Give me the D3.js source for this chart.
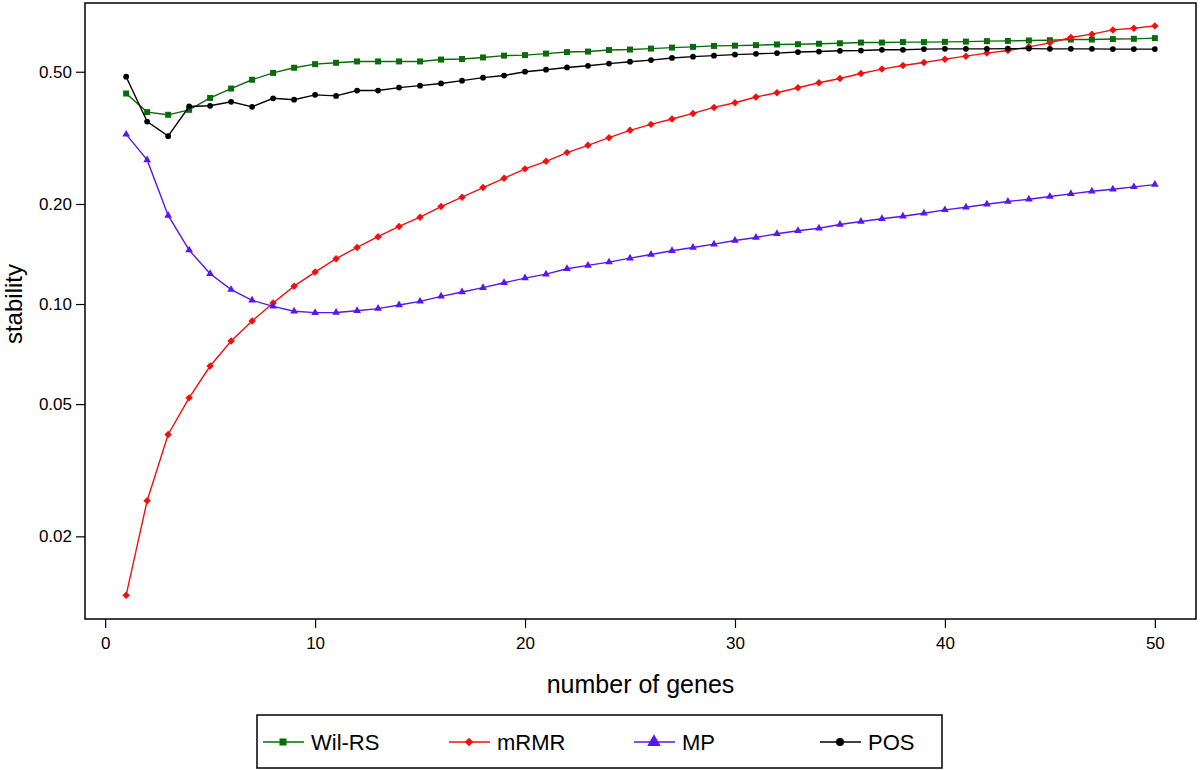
<!DOCTYPE html>
<html>
<head>
<meta charset="utf-8">
<script src="https://cdn.jsdelivr.net/npm/d3@7"></script>
<style>
  body { margin: 0; background: #fff; }
  text { font-family: "Liberation Sans", Arial, sans-serif; fill: #000; }
</style>
</head>
<body>
<svg id="chart" width="1200" height="770"></svg>
<script>
// number of genes, 1..50
var genes = d3.range(1, 51);

var wilrs = [0.430, 0.378, 0.371, 0.384, 0.417, 0.445, 0.473, 0.496, 0.514, 0.527,
             0.532, 0.537, 0.537, 0.537, 0.537, 0.544, 0.546, 0.552, 0.559, 0.561,
             0.567, 0.573, 0.575, 0.581, 0.583, 0.587, 0.591, 0.594, 0.598, 0.599,
             0.601, 0.604, 0.605, 0.607, 0.609, 0.612, 0.612, 0.614, 0.614, 0.615,
             0.616, 0.618, 0.619, 0.621, 0.622, 0.625, 0.625, 0.627, 0.628, 0.631];

var mrmr = [0.0133, 0.0256, 0.0405, 0.0522, 0.0651, 0.0774, 0.0889, 0.1007, 0.1132, 0.1248,
            0.1369, 0.1480, 0.1594, 0.1712, 0.1825, 0.1965, 0.2096, 0.2241, 0.2390, 0.2551,
            0.2688, 0.2855, 0.3003, 0.3167, 0.3331, 0.3472, 0.3604, 0.3746, 0.3905, 0.4033,
            0.4196, 0.4322, 0.4475, 0.4632, 0.4772, 0.4939, 0.5092, 0.5221, 0.5330, 0.5456,
            0.5570, 0.5689, 0.5791, 0.5941, 0.6108, 0.6336, 0.6486, 0.6682, 0.6761, 0.6870];

var mp = [0.324, 0.2714, 0.1847, 0.1453, 0.1234, 0.1105, 0.1026, 0.0984, 0.0951, 0.0942,
          0.0943, 0.0955, 0.0969, 0.0993, 0.1019, 0.1055, 0.1087, 0.1120, 0.1159, 0.1197,
          0.1230, 0.1277, 0.1307, 0.1337, 0.1374, 0.1410, 0.1447, 0.1480, 0.1514, 0.1553,
          0.1586, 0.1627, 0.1661, 0.1691, 0.1735, 0.1771, 0.1805, 0.1837, 0.1876, 0.1920,
          0.1956, 0.1997, 0.2035, 0.2067, 0.2106, 0.2146, 0.2185, 0.2215, 0.2252, 0.2288];

var pos = [0.483, 0.354, 0.320, 0.393, 0.395, 0.406, 0.392, 0.416, 0.412, 0.426,
           0.423, 0.439, 0.439, 0.448, 0.454, 0.461, 0.470, 0.480, 0.487, 0.500,
           0.507, 0.515, 0.521, 0.529, 0.536, 0.542, 0.550, 0.555, 0.559, 0.563,
           0.566, 0.569, 0.573, 0.575, 0.578, 0.579, 0.582, 0.582, 0.585, 0.586,
           0.586, 0.586, 0.587, 0.587, 0.586, 0.586, 0.586, 0.585, 0.585, 0.585];

var xTicks = [0, 10, 20, 30, 40, 50];
var yTicks = [0.02, 0.05, 0.10, 0.20, 0.50];

var seriesNames = ["Wil-RS", "mRMR", "MP", "POS"];
var seriesValues = [wilrs, mrmr, mp, pos];
var seriesColors = ["#0a6b0a", "#f01010", "#5a16ee", "#000000"];
// diamond = square turned 45 degrees (like R's pch 18)
var seriesSymbols = [d3.symbolSquare, d3.symbolSquare, d3.symbolTriangle, d3.symbolCircle];
var seriesRotate = [0, 45, 0, 0];
var symbolSizes = [36, 28, 26, 26];

var svg = d3.select("#chart");

// plot box (left, right, top, bottom)
var plotL = 85, plotR = 1196, plotT = 3, plotB = 619;

var x = d3.scaleLinear().domain([-0.96, 51.96]).range([plotL, plotR]);
var y = d3.scaleLog().domain([0.01128, 0.805]).range([plotB, plotT]);

// frame
svg.append("rect")
	.attr("x", plotL).attr("y", plotT)
	.attr("width", plotR - plotL).attr("height", plotB - plotT)
	.attr("fill", "none").attr("stroke", "#000").attr("stroke-width", 1.5);

var xAxis = svg.append("g")
	.attr("transform", "translate(0," + plotB + ")")
	.call(d3.axisBottom(x).tickValues(xTicks).tickSize(9).tickPadding(5).tickFormat(d3.format("d")));

var yAxis = svg.append("g")
	.attr("transform", "translate(" + plotL + ",0)")
	.call(d3.axisLeft(y).tickValues(yTicks).tickSize(9).tickPadding(4).tickFormat(d3.format(".2f")));

[xAxis, yAxis].forEach(function(a){
	a.attr("font-size", null).attr("font-family", null);
	a.select(".domain").remove();
	a.selectAll("line").attr("stroke", "#000").attr("stroke-width", 1.2);
	a.selectAll("text").style("font-size", "17px").attr("fill", "#000");
});
xAxis.selectAll("text").attr("dy", "0.95em");

// axis titles
svg.append("text")
	.attr("x", (plotL + plotR) / 2).attr("y", 693)
	.attr("text-anchor", "middle")
	.style("font-size", "25px")
	.text("number of genes");

svg.append("text")
	.attr("transform", "translate(22," + y(0.1) + ") rotate(-90)")
	.attr("text-anchor", "middle")
	.style("font-size", "24px")
	.text("stability");

var line = d3.line()
	.x(function(d, i){ return x(genes[i]); })
	.y(function(d){ return y(d); });

seriesValues.forEach(function(vals, k){
	var g = svg.append("g");
	g.append("path")
		.datum(vals)
		.attr("d", line)
		.attr("fill", "none")
		.attr("stroke", seriesColors[k])
		.attr("stroke-width", 1.4);
	g.selectAll("path.pt")
		.data(vals)
		.enter().append("path")
		.attr("class", "pt")
		.attr("transform", function(d, i){
			return "translate(" + x(genes[i]) + "," + y(d) + ") rotate(" + seriesRotate[k] + ")";
		})
		.attr("d", d3.symbol().type(seriesSymbols[k]).size(symbolSizes[k]))
		.attr("fill", seriesColors[k]);
});

// legend
var legend = svg.append("g");
legend.append("rect")
	.attr("x", 257).attr("y", 715)
	.attr("width", 685).attr("height", 53)
	.attr("fill", "none").attr("stroke", "#000").attr("stroke-width", 1.5);

var legX = [263, 449, 634, 820];
var legSizes = [50, 36, 80, 50];
seriesNames.forEach(function(name, k){
	var cx = legX[k] + 20;
	legend.append("line")
		.attr("x1", legX[k]).attr("x2", legX[k] + 41)
		.attr("y1", 742).attr("y2", 742)
		.attr("stroke", seriesColors[k]).attr("stroke-width", 1.5);
	legend.append("path")
		.attr("transform", "translate(" + cx + ",742) rotate(" + seriesRotate[k] + ")")
		.attr("d", d3.symbol().type(seriesSymbols[k]).size(legSizes[k]))
		.attr("fill", seriesColors[k]);
	legend.append("text")
		.attr("x", legX[k] + 48).attr("y", 742)
		.attr("dy", "0.36em")
		.style("font-size", "22px")
		.text(name);
});
</script>
</body>
</html>
